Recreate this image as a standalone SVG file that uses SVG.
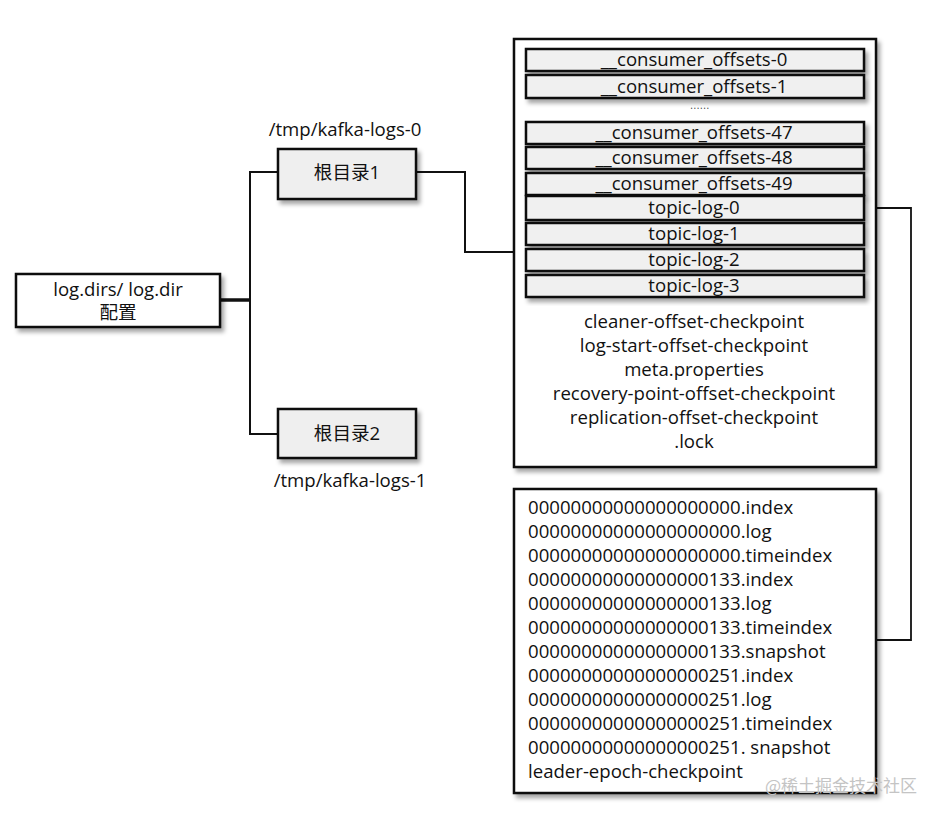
<svg xmlns="http://www.w3.org/2000/svg" width="950" height="818" viewBox="0 0 950 818">
<defs>
<filter id="sh" x="-10%" y="-10%" width="130%" height="150%">
<feDropShadow dx="3" dy="4" stdDeviation="2.2" flood-color="#000" flood-opacity="0.35"/>
</filter>
<style>
text{font-family:"Open Sans","Noto Sans CJK SC",sans-serif;font-size:18.6px;fill:#111}
.c{text-anchor:middle}
.box{fill:#fff;stroke:#111;stroke-width:2.5;filter:url(#sh)}
.gbox{fill:#efefef;stroke:#111;stroke-width:2.5;filter:url(#sh)}
.item{fill:#f0f0f0;stroke:#111;stroke-width:2.5;filter:url(#sh)}
.ln{fill:none;stroke:#111;stroke-width:2}
.wm{font-family:"Noto Sans CJK SC",sans-serif;font-size:17px;fill:#c4c4c4}
</style>
</defs>
<rect width="950" height="818" fill="#fff"/>
<g id="connectors">
<path class="ln" d="M220,300 H250" style="stroke-width:3.5"/>
<path class="ln" d="M278,172 H250 V434 H278"/>
<path class="ln" d="M416,172 H465 V252 H514"/>
<path class="ln" d="M864,208 H911 V640 H876" style="stroke-width:1.8"/>
</g>
<g id="config">
<rect class="box" x="16" y="274" width="204" height="53"/>
<text class="c" x="118" y="296">log.dirs/ log.dir</text>
<text class="c" x="118" y="319">配置</text>
</g>
<g id="root1">
<text class="c" x="345" y="136">/tmp/kafka-logs-0</text>
<rect class="gbox" x="278" y="149" width="138" height="50"/>
<text class="c" x="347" y="179">根目录1</text>
</g>
<g id="root2">
<rect class="gbox" x="278" y="409" width="138" height="49"/>
<text class="c" x="347" y="440">根目录2</text>
<text class="c" x="350" y="487">/tmp/kafka-logs-1</text>
</g>
<g id="rootdir">
<rect class="box" x="514" y="39" width="362" height="428"/>
<g id="co0"><rect class="item" x="526" y="49" width="338" height="22"/><text class="c" x="694" y="66">__consumer_offsets-0</text></g>
<g id="co1"><rect class="item" x="526" y="75" width="338" height="23"/><text class="c" x="694" y="93">__consumer_offsets-1</text></g>
<text class="c" x="700" y="109" style="font-size:10px;letter-spacing:0.6px;fill:#444">......</text>
<g id="co47"><rect class="item" x="526" y="122" width="338" height="22"/><text class="c" x="694" y="139">__consumer_offsets-47</text></g>
<g id="co48"><rect class="item" x="526" y="147" width="338" height="22"/><text class="c" x="694" y="164">__consumer_offsets-48</text></g>
<g id="co49"><rect class="item" x="526" y="173" width="338" height="22"/><text class="c" x="694" y="190">__consumer_offsets-49</text></g>
<g id="tl0"><rect class="item" x="526" y="196" width="338" height="24"/><text class="c" x="694" y="214">topic-log-0</text></g>
<g id="tl1"><rect class="item" x="526" y="223" width="338" height="22"/><text class="c" x="694" y="240">topic-log-1</text></g>
<g id="tl2"><rect class="item" x="526" y="249" width="338" height="22"/><text class="c" x="694" y="266">topic-log-2</text></g>
<g id="tl3"><rect class="item" x="526" y="275" width="338" height="22"/><text class="c" x="694" y="292">topic-log-3</text></g>
<text class="c" x="694" y="328">cleaner-offset-checkpoint</text>
<text class="c" x="694" y="352">log-start-offset-checkpoint</text>
<text class="c" x="694" y="376">meta.properties</text>
<text class="c" x="694" y="400">recovery-point-offset-checkpoint</text>
<text class="c" x="694" y="424">replication-offset-checkpoint</text>
<text class="c" x="694" y="448">.lock</text>
</g>
<g id="partition">
<rect class="box" x="514" y="489" width="362" height="304"/>
<text x="528" y="514">00000000000000000000.index</text>
<text x="528" y="538">00000000000000000000.log</text>
<text x="528" y="562">00000000000000000000.timeindex</text>
<text x="528" y="586">00000000000000000133.index</text>
<text x="528" y="610">00000000000000000133.log</text>
<text x="528" y="634">00000000000000000133.timeindex</text>
<text x="528" y="658">00000000000000000133.snapshot</text>
<text x="528" y="682">00000000000000000251.index</text>
<text x="528" y="706">00000000000000000251.log</text>
<text x="528" y="730">00000000000000000251.timeindex</text>
<text x="528" y="754">00000000000000000251. snapshot</text>
<text x="528" y="778">leader-epoch-checkpoint</text>
</g>
<text class="wm" x="765" y="792">@稀土掘金技术社区</text>
</svg>
